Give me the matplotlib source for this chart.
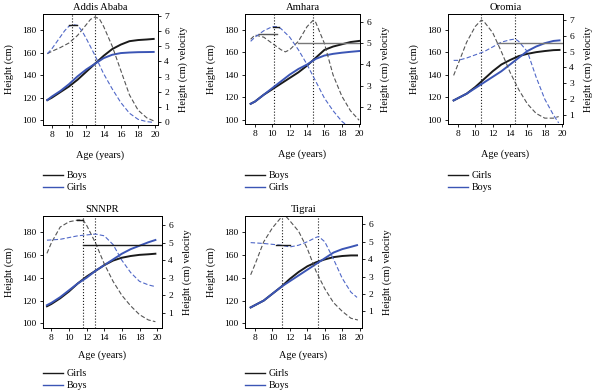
import numpy as np
import matplotlib
matplotlib.use("Agg")
import matplotlib.pyplot as plt

plt.rcParams['font.family'] = ['Liberation Serif', 'DejaVu Serif']

BLACK = "#1a1a1a"
BLUE = "#3b55b5"
DBLACK = "#555555"
DBLUE = "#5068c8"

# ---- Addis Ababa (black = boys, blue = girls)
addis_age = [7.5, 8, 9, 10, 11, 12, 13, 14, 15, 16, 17, 18, 19, 19.8]
addis_h_black = [118, 120, 125, 130, 136, 143, 150, 157, 163, 167, 170, 171, 171.5, 172]
addis_h_blue = [118, 121, 126, 132, 139, 145, 150, 155, 158, 159.5, 160, 160.3, 160.4, 160.5]
addis_vage_black = [7.5, 8, 9, 10, 11, 12, 12.5, 13, 13.5, 14, 15, 16, 17, 18, 19, 19.8]
addis_v_black = [4.5, 4.65, 4.9, 5.2, 5.7, 6.4, 6.75, 6.9, 6.8, 6.3, 5.0, 3.4, 1.8, 0.8, 0.3, 0.1]
addis_vage_blue = [7.5, 8, 8.5, 9, 9.5, 10, 10.5, 11, 11.5, 12, 13, 14, 15, 16, 17, 18, 19, 19.8]
addis_v_blue = [4.5, 4.8, 5.2, 5.6, 6.0, 6.3, 6.4, 6.35, 6.0, 5.5, 4.4, 3.2, 2.2, 1.3, 0.6, 0.2, 0.05, 0.0]
addis_vlines = [10.3, 13.0]
addis_marks = [(10.0, 10.9, 6.38, BLACK)]

# ---- Amhara (black = boys, blue = girls)
amhara_age = [7.5, 8, 9, 10, 11, 12, 13, 14, 15, 16, 17, 18, 19, 20]
amhara_h_black = [114, 116, 122, 127, 132, 137, 142, 148, 155, 162, 165, 167, 169, 170]
amhara_h_blue = [114, 116, 122, 128, 134, 140, 145, 149, 154, 157, 158.5, 159.5, 160.3, 161]
amhara_vage_black = [7.5, 8, 9, 10, 11, 11.5, 12, 13, 14, 14.7, 15, 16, 17, 18, 19, 20]
amhara_v_black = [5.2, 5.4, 5.3, 5.0, 4.7, 4.6, 4.7, 5.1, 5.8, 6.1, 6.0, 5.0, 3.5, 2.5, 1.8, 1.35]
amhara_vage_blue = [7.5, 8, 9, 10, 10.5, 11, 12, 13, 14, 15, 16, 17, 18, 18.6]
amhara_v_blue = [5.1, 5.3, 5.6, 5.8, 5.8, 5.7, 5.3, 4.7, 4.0, 3.2, 2.4, 1.8, 1.3, 1.1]
amhara_vlines = [10.2, 14.7]
amhara_marks = [(10.1, 10.8, 5.8, BLACK), (8.5, 10.5, 5.43, DBLACK), (13.0, 20.0, 5.0, "#777777")]

# ---- Oromia (black = girls, blue = boys)
oromia_age = [7.5, 8, 9, 10, 11, 12, 13, 14, 15, 16, 17, 18, 19, 19.7]
oromia_h_black = [117, 119, 123, 129, 136, 143, 149, 153, 156.5, 158.5, 160, 161, 161.8, 162]
oromia_h_blue = [117, 119, 123, 128, 133, 138, 143, 149, 155, 161, 165, 168, 170, 170.5]
oromia_vage_black = [7.5, 8, 9, 10, 10.7, 11, 12, 13, 14, 15, 16, 17, 18, 19, 19.6]
oromia_v_black = [3.5, 4.2, 5.6, 6.6, 7.0, 6.9, 6.2, 5.0, 3.7, 2.6, 1.7, 1.1, 0.8, 0.8, 0.9]
oromia_vage_blue = [7.5, 8, 9, 10, 11, 12, 13, 14, 14.6, 15, 16, 17, 18, 19, 19.6]
oromia_v_blue = [4.45, 4.45, 4.6, 4.8, 5.0, 5.3, 5.6, 5.75, 5.8, 5.65, 5.0, 3.4, 2.0, 1.0, 0.5]
oromia_vlines = [10.6, 14.6]
oromia_marks = [(12.5, 20.0, 5.52, "#777777")]

# ---- SNNPR (black = girls, blue = boys)
snnpr_age = [7.5, 8, 9, 10, 11, 12, 13, 14, 15, 16, 17, 18, 19, 19.8]
snnpr_h_black = [115, 117, 122, 128, 135, 141, 146, 151, 155, 157.5, 159, 160, 160.5, 161]
snnpr_h_blue = [116, 118, 123, 129, 135, 140, 146, 151, 156, 161, 165, 168, 171, 173]
snnpr_vage_black = [7.5, 8, 9, 10, 11, 11.6, 12, 13, 14, 15, 16, 17, 18, 19, 19.8]
snnpr_v_black = [4.4, 5.0, 5.9, 6.2, 6.3, 6.3, 6.0, 5.0, 3.8, 2.8, 2.0, 1.4, 0.9, 0.6, 0.5]
snnpr_vage_blue = [7.5, 9, 10, 11, 12, 13, 14, 15, 16, 17, 18, 19, 19.8]
snnpr_v_blue = [5.15, 5.2, 5.3, 5.4, 5.45, 5.5, 5.4, 4.9, 4.0, 3.3, 2.8, 2.6, 2.5]
snnpr_vlines = [11.6, 13.0]
snnpr_marks = [(10.9, 11.6, 6.3, BLACK), (11.6, 20.6, 4.85, BLACK)]

# ---- Tigrai (black = girls, blue = boys)
tigrai_age = [7.5, 8, 9, 10, 11, 12, 13, 14, 15, 16, 17, 18, 19, 19.7]
tigrai_h_black = [114, 116, 120, 126, 132, 139, 145, 150, 153.5, 156, 158, 159, 159.5, 159.5]
tigrai_h_blue = [114, 116, 120, 126, 132, 137, 142, 147, 152, 157, 162, 165, 167, 168.5]
tigrai_vage_black = [7.5, 8, 9, 10, 11, 11.3, 12, 13, 14, 15, 16, 17, 18, 19, 19.8]
tigrai_v_black = [3.1, 3.7, 5.0, 5.8, 6.4, 6.6, 6.2, 5.6, 4.6, 3.3, 2.3, 1.5, 1.0, 0.6, 0.5]
tigrai_vage_blue = [7.5, 9, 10, 11, 12, 13, 14, 15, 15.3, 16, 17, 18, 19, 19.7]
tigrai_v_blue = [4.95, 4.9, 4.85, 4.8, 4.7, 4.8, 5.0, 5.25, 5.3, 5.0, 4.0, 2.9, 2.1, 1.8]
tigrai_vlines = [11.1, 15.2]
tigrai_marks = [(10.4, 12.0, 4.8, BLACK)]

fig = plt.figure(figsize=(6, 3.92), dpi=100)
W, H = 600, 392


def px_axes(x0, y0, x1, y1):
    return fig.add_axes([x0 / W, 1 - y1 / H, (x1 - x0) / W, (y1 - y0) / H])


def panel(box, title, age, hb, hl, vab, vb, val, vl, vlines, marks, rlim, rticks,
          xlim, labels, leg_off, xpad):
    ax = px_axes(*box)
    ax2 = ax.twinx()
    ax.plot(age, hb, color=BLACK, lw=1.4, zorder=3)
    ax.plot(age, hl, color=BLUE, lw=1.4, zorder=3)
    ax2.plot(vab, vb, color=DBLACK, lw=0.8, ls=(0, (4, 2)))
    ax2.plot(val, vl, color=DBLUE, lw=0.8, ls=(0, (4, 2)))
    for v in vlines:
        ax.axvline(v, color=BLACK, lw=0.8, ls=':')
    for x0, x1, y, c in marks:
        ax2.plot([x0, x1], [y, y], color=c, lw=1.0)
    ax.set_xlim(*xlim)
    ax.set_ylim(96, 194)
    ax2.set_ylim(*rlim)
    ax.set_xticks(range(8, 21, 2))
    ax.set_yticks(range(100, 181, 20))
    ax2.set_yticks(rticks)
    for a in (ax, ax2):
        a.tick_params(labelsize=6.8, length=2.5, width=0.6, pad=2)
        for s in a.spines.values():
            s.set_linewidth(0.7)
    ax.set_title(title, fontsize=7.6, pad=3)
    ax.set_xlabel("Age (years)", fontsize=7.4, labelpad=xpad)
    ax.set_ylabel("Height (cm)", fontsize=7.4, labelpad=6)
    ax2.set_ylabel("Height (cm) velocity", fontsize=7.4, labelpad=7)
    # legend below the panel
    lx = box[0]
    ly = box[3] + leg_off
    for i, (lab, c) in enumerate(zip(labels, [BLACK, BLUE])):
        yy = 1 - (ly + 12 * i) / H
        fig.add_artist(plt.Line2D([lx / W, (lx + 20) / W], [yy, yy], color=c, lw=1.0))
        fig.text((lx + 24) / W, yy, lab, fontsize=7.2, va='center')


panel((43, 14, 158, 125), "Addis Ababa", addis_age, addis_h_black, addis_h_blue,
      addis_vage_black, addis_v_black, addis_vage_blue, addis_v_blue, addis_vlines,
      addis_marks, (-0.17, 7.1), range(0, 8), (7.0, 20.3), ["Boys", "Girls"], 50, 8)
panel((245, 14, 360, 124), "Amhara", amhara_age, amhara_h_black, amhara_h_blue,
      amhara_vage_black, amhara_v_black, amhara_vage_blue, amhara_v_blue, amhara_vlines,
      amhara_marks, (1.17, 6.4), range(2, 7), (6.85, 20.1), ["Boys", "Girls"], 51, 8)
panel((448, 14, 563, 124), "Oromia", oromia_age, oromia_h_black, oromia_h_blue,
      oromia_vage_black, oromia_v_black, oromia_vage_blue, oromia_v_blue, oromia_vlines,
      oromia_marks, (0.43, 7.38), range(1, 8), (6.85, 20.1), ["Girls", "Boys"], 51, 8)
panel((43, 216, 162, 328), "SNNPR", snnpr_age, snnpr_h_black, snnpr_h_blue,
      snnpr_vage_black, snnpr_v_black, snnpr_vage_blue, snnpr_v_blue, snnpr_vlines,
      snnpr_marks, (0.14, 6.53), range(1, 7), (7.05, 20.55), ["Girls", "Boys"], 45, 6)
panel((245, 216, 362, 328), "Tigrai", tigrai_age, tigrai_h_black, tigrai_h_blue,
      tigrai_vage_black, tigrai_v_black, tigrai_vage_blue, tigrai_v_blue, tigrai_vlines,
      tigrai_marks, (0.04, 6.48), range(1, 7), (6.85, 20.27), ["Girls", "Boys"], 45, 6)

fig.savefig("out.png", dpi=100)
